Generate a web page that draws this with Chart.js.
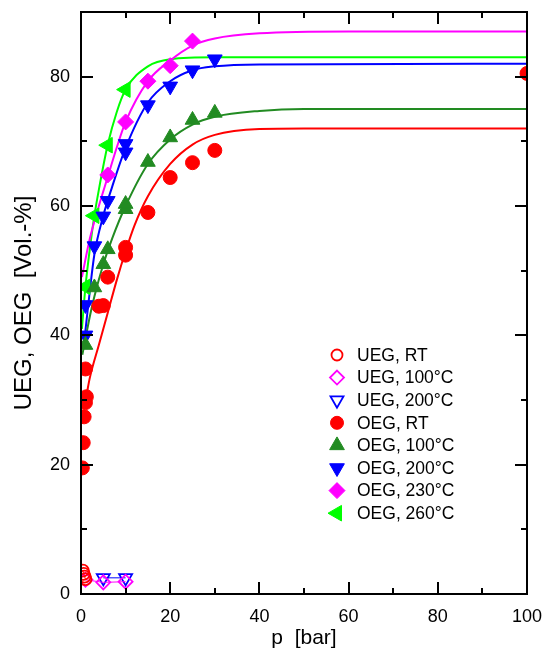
<!DOCTYPE html>
<html>
<head>
<meta charset="utf-8">
<script src="https://cdn.jsdelivr.net/npm/chart.js@4.4.1/dist/chart.umd.min.js"></script>
<style>
  html, body { margin: 0; padding: 0; background: #fff; }
  #wrap { width: 544px; height: 654px; }
</style>
</head>
<body>
<div id="wrap"><canvas id="myChart" width="544" height="654"></canvas></div>
<script>
// axes
var xTickLabels = ['0', '20', '40', '60', '80', '100'];
var yTickLabels = ['0', '20', '40', '60', '80'];

// UEG (untere Explosionsgrenze)
var uegRtP = [0.4, 0.6, 0.8, 1.0];
var uegRtV = [3.6, 3.1, 2.7, 2.3];
var ueg100P = [1, 5, 10];
var ueg100V = [2.2, 1.8, 1.9];
var ueg200P = [5, 10];
var ueg200V = [2.5, 2.5];

// OEG (obere Explosionsgrenze), Messpunkte
var oegRtP = [0.3, 0.5, 0.7, 1.0, 1.2, 1.0, 4, 5, 6, 10, 10, 15, 20, 25, 30, 100];
var oegRtV = [19.5, 23.4, 27.4, 29.6, 30.5, 34.8, 44.5, 44.6, 49, 52.4, 53.6, 59, 64.4, 66.7, 68.6, 80.5];
var oeg100P = [1, 3, 5, 6, 10, 10, 15, 20, 25, 30];
var oeg100V = [38.5, 47.4, 51, 53.3, 59.5, 60.3, 66.8, 70.6, 73.3, 74.4];
var oeg200P = [1, 1, 3, 5, 6, 10, 10, 15, 20, 25, 30];
var oeg200V = [40, 44.7, 53.8, 58.4, 60.8, 68.3, 69.6, 75.6, 78.5, 81, 82.7];
var oeg230P = [6, 10, 15, 20, 25];
var oeg230V = [64.8, 73, 79.3, 81.7, 85.5];
var oeg260P = [1, 3, 6, 10];
var oeg260V = [47.5, 58.5, 69.4, 78];

// Ausgleichskurven
var fitRtP = [1.3, 2, 4, 6, 8, 10, 12, 15, 20, 25, 30, 40, 50, 100];
var fitRtV = [31, 33.5, 38.5, 43.5, 48.5, 53, 57, 61.5, 66.5, 69.5, 71, 71.9, 72, 72];
var fit100P = [0.3, 1, 2, 3, 5, 7, 10, 15, 20, 25, 30, 40, 50, 100];
var fit100V = [37, 39.5, 43, 46, 51, 55, 60, 66.5, 70.3, 72.6, 73.8, 74.7, 75, 75];
var fit200P = [0.8, 2, 3, 5, 7, 10, 15, 20, 25, 30, 40, 100];
var fit200V = [39.5, 47, 52.5, 58.5, 63, 69, 76, 79.3, 81, 81.6, 81.9, 82];
var fit230P = [0.2, 2, 4, 6, 8, 10, 15, 20, 25, 30, 40, 60, 100];
var fit230V = [49, 55, 60, 64.5, 69, 73, 79.3, 82.5, 84.8, 85.9, 86.7, 87, 87];
var fit260P = [0.2, 1, 2, 3, 4, 6, 8, 10, 15, 20, 30, 100];
var fit260V = [41, 47.5, 53.5, 58.5, 62.5, 69.5, 74.5, 78, 81.6, 82.7, 83, 83];

var legendLabels = ['UEG, RT', 'UEG, 100°C', 'UEG, 200°C', 'OEG, RT',
                    'OEG, 100°C', 'OEG, 200°C', 'OEG, 230°C', 'OEG, 260°C'];

var RED = '#ff0000', GREEN = '#228b22', BLUE = '#0000ff', MAGENTA = '#ff00ff', LIME = '#00ff00';
var FONT = "'Liberation Sans', Arial, sans-serif";

function pts(p, v) {
    var out = [];
    for (var i = 0; i < p.length; i++) out.push({ x: p[i], y: v[i] });
    return out;
}

function markers(p, v, color, style, r, rot) {
    return {
        data: pts(p, v), showLine: false, order: 1, clip: 0,
        pointStyle: style, pointRadius: r, pointRotation: rot || 0,
        pointBackgroundColor: color, pointBorderColor: color, pointBorderWidth: 1
    };
}

function openMarkers(p, v, color, style, r, rot) {
    return {
        data: pts(p, v), showLine: true, order: 2, clip: 0,
        borderColor: color, borderWidth: 1,
        pointStyle: style, pointRadius: r, pointRotation: rot || 0,
        pointBackgroundColor: 'rgba(0,0,0,0)', pointBorderColor: color, pointBorderWidth: 1.8
    };
}

function fitLine(p, v, color) {
    return {
        data: pts(p, v), showLine: true, order: 5, clip: 0,
        borderColor: color, borderWidth: 2, pointRadius: 0,
        cubicInterpolationMode: 'monotone'
    };
}

// symbole de légende, même géométrie que les pointStyle de Chart.js
function drawMarker(ctx, style, x, y, r, rot, color, filled) {
    var rad = rot * Math.PI / 180;
    ctx.beginPath();
    if (style === 'circle') {
        ctx.arc(x, y, r, 0, 2 * Math.PI);
    } else if (style === 'triangle') {
        for (var k = 0; k < 3; k++) {
            var a = rad + k * 2 * Math.PI / 3;
            if (k === 0) ctx.moveTo(x + Math.sin(a) * r, y - Math.cos(a) * r);
            else ctx.lineTo(x + Math.sin(a) * r, y - Math.cos(a) * r);
        }
    } else if (style === 'rectRot') {
        ctx.moveTo(x, y - r); ctx.lineTo(x + r, y); ctx.lineTo(x, y + r); ctx.lineTo(x - r, y);
    }
    ctx.closePath();
    if (filled) { ctx.fillStyle = color; ctx.fill(); ctx.lineWidth = 1; }
    else { ctx.lineWidth = 1.8; }
    ctx.strokeStyle = color;
    ctx.stroke();
}

var legendSymbols = [
    ['circle', 5.5, 0, RED, false],
    ['rectRot', 7, 0, MAGENTA, false],
    ['triangle', 7.5, 180, BLUE, false],
    ['circle', 6.5, 0, RED, true],
    ['triangle', 8.5, 0, GREEN, true],
    ['triangle', 8.5, 180, BLUE, true],
    ['rectRot', 8, 0, MAGENTA, true],
    ['triangle', 9, -90, LIME, true]
];

var framePlugin = {
    id: 'frame',
    afterDatasetsDraw: function (chart) {
        var ctx = chart.ctx, a = chart.chartArea;
        var xs = chart.scales.x, ys = chart.scales.y;
        ctx.save();
        ctx.strokeStyle = '#000';
        ctx.lineWidth = 2;
        ctx.strokeRect(a.left, a.top, a.right - a.left, a.bottom - a.top);
        ctx.beginPath();
        for (var v = 10; v < 100; v += 10) {
            var px = Math.round(xs.getPixelForValue(v));
            var len = (v % 20 === 0) ? 12 : 6;
            ctx.moveTo(px, a.bottom); ctx.lineTo(px, a.bottom - len);
            ctx.moveTo(px, a.top); ctx.lineTo(px, a.top + len);
        }
        for (var w = 10; w < 90; w += 10) {
            var py = Math.round(ys.getPixelForValue(w));
            var l2 = (w % 20 === 0) ? 12 : 6;
            ctx.moveTo(a.left, py); ctx.lineTo(a.left + l2, py);
            ctx.moveTo(a.right, py); ctx.lineTo(a.right - l2, py);
        }
        ctx.stroke();

        // légende
        ctx.font = '17.5px ' + FONT;
        ctx.textBaseline = 'middle';
        ctx.fillStyle = '#000';
        for (var i = 0; i < legendLabels.length; i++) {
            var y = 355 + i * 22.6;
            var s = legendSymbols[i];
            drawMarker(ctx, s[0], 337, y, s[1], s[2], s[3], s[4]);
            ctx.fillStyle = '#000';
            ctx.fillText(legendLabels[i], 357, y + 1);
        }
        ctx.restore();
    }
};

function tickText(list) {
    return function (value) {
        var s = String(value);
        return list.indexOf(s) >= 0 ? s : '';
    };
}

var ctx = document.getElementById('myChart').getContext('2d');
var myChart = new Chart(ctx, {
    type: 'scatter',
    data: {
        datasets: [
            openMarkers(uegRtP, uegRtV, RED, 'circle', 6),
            openMarkers(ueg100P, ueg100V, MAGENTA, 'rectRot', 7),
            openMarkers(ueg200P, ueg200V, BLUE, 'triangle', 7.5, 180),
            markers(oegRtP, oegRtV, RED, 'circle', 7),
            markers(oeg100P, oeg100V, GREEN, 'triangle', 8.5),
            markers(oeg200P, oeg200V, BLUE, 'triangle', 8.5, 180),
            markers(oeg230P, oeg230V, MAGENTA, 'rectRot', 8),
            markers(oeg260P, oeg260V, LIME, 'triangle', 9, -90),
            fitLine(fitRtP, fitRtV, RED),
            fitLine(fit100P, fit100V, GREEN),
            fitLine(fit200P, fit200V, BLUE),
            fitLine(fit230P, fit230V, MAGENTA),
            fitLine(fit260P, fit260V, LIME)
        ]
    },
    options: {
        responsive: false,
        animation: false,
        layout: { padding: { left: 0, right: 17, top: 12, bottom: 0 } },
        plugins: { legend: { display: false }, tooltip: { enabled: false } },
        scales: {
            x: {
                type: 'linear', min: 0, max: 100,
                grid: { display: false, drawTicks: false },
                border: { display: false },
                ticks: {
                    stepSize: 10, autoSkip: false, maxRotation: 0, padding: 12,
                    color: '#000', font: { family: FONT, size: 18 },
                    callback: tickText(xTickLabels)
                },
                title: {
                    display: true, text: 'p  [bar]', color: '#000',
                    font: { family: FONT, size: 21 }, padding: { top: 0, bottom: 3 }
                },
                afterFit: function (s) { s.height = 60; s.paddingLeft = 0; s.paddingRight = 0; }
            },
            y: {
                type: 'linear', min: 0, max: 90,
                grid: { display: false, drawTicks: false },
                border: { display: false },
                ticks: {
                    stepSize: 10, autoSkip: false, padding: 11,
                    color: '#000', font: { family: FONT, size: 18 },
                    callback: tickText(yTickLabels)
                },
                title: {
                    display: true, text: 'UEG, OEG  [Vol.-%]', color: '#000',
                    font: { family: FONT, size: 24 }, padding: { top: 10, bottom: 0 }
                },
                afterFit: function (s) { s.width = 81; s.paddingTop = 0; s.paddingBottom = 0; }
            }
        }
    },
    plugins: [framePlugin]
});
</script>
</body>
</html>
